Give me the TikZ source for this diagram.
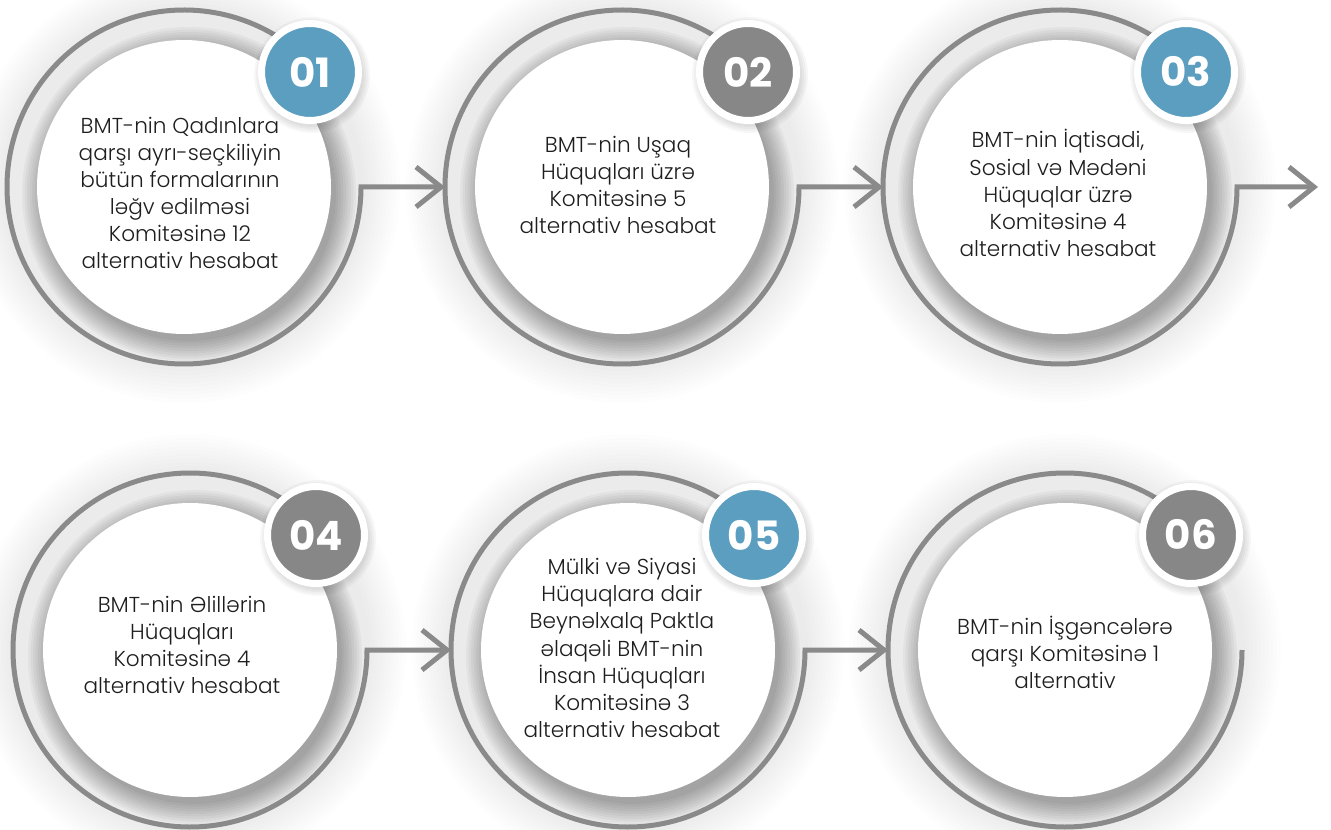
\documentclass[tikz,border=0pt]{standalone}
\usepackage{fontspec}
\setmainfont{Poppins}[UprightFont={Poppins Light}, BoldFont={Poppins Bold}]
\usetikzlibrary{arrows.meta}

\definecolor{ringgray}{HTML}{8A8A8A}
\definecolor{badgeblue}{HTML}{5B9EC0}
\definecolor{badgegray}{HTML}{878787}
\definecolor{txtdark}{HTML}{1E1E1E}

\begin{document}
\begin{tikzpicture}[x=0.02cm, y=0.02cm,
    ring/.style={circle, minimum size=7.08cm, inner sep=0pt, outer sep=0pt},
    disk/.style={circle, fill=white, minimum size=5.88cm, inner sep=0pt},
    txt/.style={align=center, text=txtdark, inner sep=0pt,
                font=\fontsize{12.3}{15.4}\selectfont},
    badge/.style={circle, draw=white, line width=0.14cm, minimum size=1.94cm,
                  inner sep=0pt, text=white, font=\fontsize{23}{23}\selectfont\bfseries},
    ringline/.style={draw=ringgray, line width=0.1cm},
    flow/.style={ringline, -{Straight Barb[length=0.5cm, width=0.8cm]}}]

  \useasboundingbox (0,0) rectangle (1331,829);

  \node[ring] (r1) at (184,642) {};
  \node[ring] (r2) at (622,642) {};
  \node[ring] (r3) at (1060,642) {};
  \node[ring] (r4) at (190,179) {};
  \node[ring] (r5) at (628,179) {};
  \node[ring] (r6) at (1065,179) {};
  \coordinate (out3) at (1318,642);

  % soft shadows
  \foreach \c in {r1,r2,r3,r4,r5,r6}
    {
      \foreach \k in {0,...,9}
        \fill[black, opacity=0.009] (\c.center) circle [radius=180+4*\k];
      \foreach \k in {0,...,8}
        \fill[black, opacity=0.038] ([shift={(5,-7)}]\c.center) circle [radius=147+2.5*\k];
    }

  \draw[flow] ([shift={(42:177)}]r1.center) arc [start angle=42, end angle=360, radius=177] -- (r2.west);
  \draw[flow] ([shift={(42:177)}]r2.center) arc [start angle=42, end angle=360, radius=177] -- (r3.west);
  \draw[flow] ([shift={(42:177)}]r3.center) arc [start angle=42, end angle=360, radius=177] -- (out3);
  \draw[flow] ([shift={(42:177)}]r4.center) arc [start angle=42, end angle=360, radius=177] -- (r5.west);
  \draw[flow] ([shift={(42:177)}]r5.center) arc [start angle=42, end angle=360, radius=177] -- (r6.west);
  \draw[ringline] ([shift={(42:177)}]r6.center) arc [start angle=42, end angle=360, radius=177];

  \foreach \c in {1,...,6}
    \node[disk] (d\c) at (r\c.center) {};

  \node[txt] (t1) at ([shift={(-4,-6)}]d1.center) {BMT-nin Qadınlara\\qarşı ayrı-seçkiliyin\\bütün formalarının\\ləğv edilməsi\\Komitəsinə 12\\alternativ hesabat};
  \node[txt] (t2) at ([shift={(-4,2)}]d2.center) {BMT-nin Uşaq\\Hüquqları üzrə\\Komitəsinə 5\\alternativ hesabat};
  \node[txt] (t3) at ([shift={(-2,-6)}]d3.center) {BMT-nin İqtisadi,\\Sosial və Mədəni\\Hüquqlar üzrə\\Komitəsinə 4\\alternativ hesabat};
  \node[txt] (t4) at ([shift={(-8,5)}]d4.center) {BMT-nin Əlillərin\\Hüquqları\\Komitəsinə 4\\alternativ hesabat};
  \node[txt] (t5) at ([shift={(-6,2)}]d5.center) {Mülki və Siyasi\\Hüquqlara dair\\Beynəlxalq Paktla\\əlaqəli BMT-nin\\İnsan Hüquqları\\Komitəsinə 3\\alternativ hesabat};
  \node[txt] (t6) at ([shift={(0,-2)}]d6.center) {BMT-nin İşgəncələrə\\qarşı Komitəsinə 1\\alternativ};

  \foreach \c in {r1,r2,r3,r4,r5,r6}
    \foreach \k in {0,...,3}
      \fill[black, opacity=0.03] ([shift={(128,112)}]\c.center) circle [radius=52+2*\k];

  \node[badge, fill=badgeblue] (b1) at ([shift={(126,115)}]r1.center) {01};
  \node[badge, fill=badgegray] (b2) at ([shift={(126,115)}]r2.center) {02};
  \node[badge, fill=badgeblue] (b3) at ([shift={(126,115)}]r3.center) {03};
  \node[badge, fill=badgegray] (b4) at ([shift={(126,115)}]r4.center) {04};
  \node[badge, fill=badgeblue] (b5) at ([shift={(126,115)}]r5.center) {05};
  \node[badge, fill=badgegray] (b6) at ([shift={(126,115)}]r6.center) {06};

\end{tikzpicture}
\end{document}
